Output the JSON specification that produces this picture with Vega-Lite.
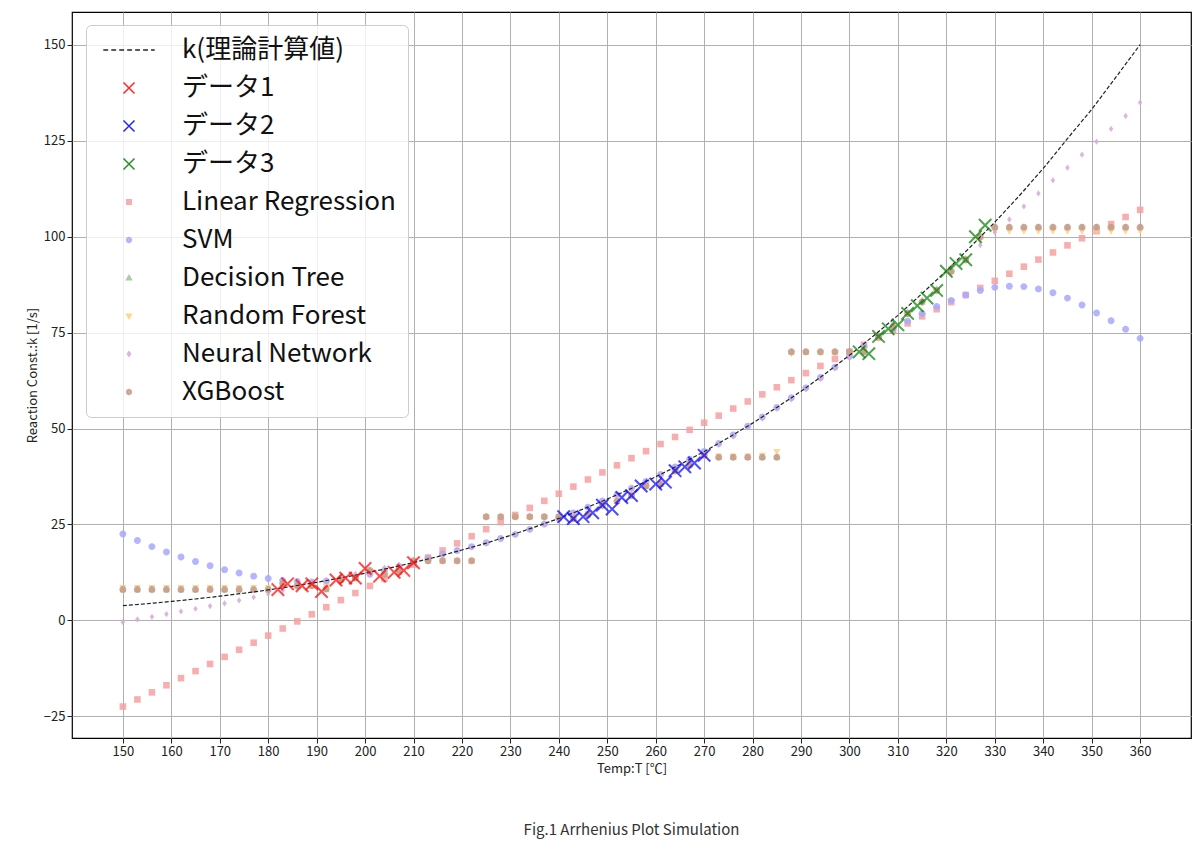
{
"$schema":"https://vega.github.io/schema/vega-lite/v6.json",
"width":1119,"height":726,
"padding":{"left":26,"top":12,"right":8,"bottom":5},
"config":{"font":"Noto Sans CJK JP","view":{"stroke":"black","strokeWidth":1.2},
"axis":{"grid":true,"gridColor":"#b0b0b0","gridWidth":1,"domain":false,"labelFontSize":13,"titleFontSize":13,"titleFontWeight":"normal","labelColor":"#222","titleColor":"#222","tickColor":"#222"}},
"title":{"text":"Fig.1 Arrhenius Plot Simulation","orient":"bottom","fontSize":15,"fontWeight":"normal","color":"#333","offset":48},
"datasets":{
"curve":[{"T":150,"k":3.8},{"T":155,"k":4.3},{"T":160,"k":4.91},{"T":165,"k":5.55},{"T":170,"k":6.27},{"T":175,"k":7.05},{"T":180,"k":7.91},{"T":185,"k":8.85},{"T":190,"k":9.9},{"T":195,"k":11.05},{"T":200,"k":12.26},{"T":205,"k":13.6},{"T":210,"k":15.05},{"T":215,"k":16.6},{"T":220,"k":18.32},{"T":225,"k":20.1},{"T":230,"k":22.13},{"T":235,"k":24.3},{"T":240,"k":26.55},{"T":245,"k":29.0},{"T":250,"k":31.6},{"T":255,"k":34.4},{"T":260,"k":37.4},{"T":265,"k":40.6},{"T":270,"k":44.0},{"T":275,"k":47.6},{"T":280,"k":51.4},{"T":285,"k":55.5},{"T":290,"k":59.7},{"T":295,"k":64.3},{"T":300,"k":69.1},{"T":305,"k":74.2},{"T":310,"k":79.5},{"T":315,"k":85.2},{"T":320,"k":91.1},{"T":325,"k":97.4},{"T":330,"k":103.8},{"T":335,"k":110.6},{"T":340,"k":117.8},{"T":345,"k":125.6},{"T":350,"k":133.2},{"T":355,"k":141.6},{"T":360,"k":150.1}],
"obs":[
{"T":182,"k":8,"series":"データ1"},{"T":184,"k":9.5,"series":"データ1"},{"T":187,"k":9,"series":"データ1"},{"T":189,"k":9.5,"series":"データ1"},{"T":191,"k":7.5,"series":"データ1"},{"T":194,"k":10.5,"series":"データ1"},{"T":196,"k":11,"series":"データ1"},{"T":198,"k":11,"series":"データ1"},{"T":200,"k":13.5,"series":"データ1"},{"T":203,"k":11.5,"series":"データ1"},{"T":206,"k":12.5,"series":"データ1"},{"T":208,"k":13,"series":"データ1"},{"T":210,"k":15,"series":"データ1"},
{"T":241,"k":27,"series":"データ2"},{"T":243,"k":26.5,"series":"データ2"},{"T":245,"k":27,"series":"データ2"},{"T":247,"k":28,"series":"データ2"},{"T":249,"k":30,"series":"データ2"},{"T":251,"k":29,"series":"データ2"},{"T":253,"k":32,"series":"データ2"},{"T":255,"k":32.5,"series":"データ2"},{"T":257,"k":35,"series":"データ2"},{"T":260,"k":35.5,"series":"データ2"},{"T":262,"k":36,"series":"データ2"},{"T":264,"k":39,"series":"データ2"},{"T":266,"k":40,"series":"データ2"},{"T":268,"k":41,"series":"データ2"},{"T":270,"k":43,"series":"データ2"},
{"T":302,"k":70,"series":"データ3"},{"T":304,"k":69.5,"series":"データ3"},{"T":306,"k":74,"series":"データ3"},{"T":308,"k":76,"series":"データ3"},{"T":310,"k":77,"series":"データ3"},{"T":312,"k":80,"series":"データ3"},{"T":314,"k":82,"series":"データ3"},{"T":316,"k":84,"series":"データ3"},{"T":318,"k":86,"series":"データ3"},{"T":320,"k":91,"series":"データ3"},{"T":322,"k":93,"series":"データ3"},{"T":324,"k":94,"series":"データ3"},{"T":326,"k":100,"series":"データ3"},{"T":328,"k":103,"series":"データ3"}],
"ml":[
{"T":150,"Linear Regression":-22.5,"SVM":22.5,"Decision Tree":8,"Random Forest":8.5,"Neural Network":-0.5,"XGBoost":8},
{"T":153,"Linear Regression":-20.65,"SVM":20.8,"Decision Tree":8,"Random Forest":8.5,"Neural Network":0.2,"XGBoost":8},
{"T":156,"Linear Regression":-18.8,"SVM":19.2,"Decision Tree":8,"Random Forest":8.5,"Neural Network":0.9,"XGBoost":8},
{"T":159,"Linear Regression":-16.95,"SVM":17.8,"Decision Tree":8,"Random Forest":8.5,"Neural Network":1.6,"XGBoost":8},
{"T":162,"Linear Regression":-15.1,"SVM":16.5,"Decision Tree":8,"Random Forest":8.5,"Neural Network":2.3,"XGBoost":8},
{"T":165,"Linear Regression":-13.25,"SVM":15.3,"Decision Tree":8,"Random Forest":8.5,"Neural Network":3.0,"XGBoost":8},
{"T":168,"Linear Regression":-11.4,"SVM":14.2,"Decision Tree":8,"Random Forest":8.5,"Neural Network":3.7,"XGBoost":8},
{"T":171,"Linear Regression":-9.55,"SVM":13.2,"Decision Tree":8,"Random Forest":8.5,"Neural Network":4.4,"XGBoost":8},
{"T":174,"Linear Regression":-7.7,"SVM":12.3,"Decision Tree":8,"Random Forest":8.5,"Neural Network":5.2,"XGBoost":8},
{"T":177,"Linear Regression":-5.85,"SVM":11.5,"Decision Tree":8,"Random Forest":8.5,"Neural Network":6.0,"XGBoost":8},
{"T":180,"Linear Regression":-4,"SVM":10.9,"Decision Tree":8,"Random Forest":8.5,"Neural Network":6.9,"XGBoost":8},
{"T":183,"Linear Regression":-2.15,"SVM":10.4,"Decision Tree":9.5,"Random Forest":9.3,"Neural Network":7.8,"XGBoost":9.5},
{"T":186,"Linear Regression":-0.3,"SVM":10.1,"Decision Tree":9,"Random Forest":9.2,"Neural Network":8.7,"XGBoost":9},
{"T":189,"Linear Regression":1.55,"SVM":10.0,"Decision Tree":9,"Random Forest":9,"Neural Network":9.6,"XGBoost":9},
{"T":192,"Linear Regression":3.4,"SVM":10.2,"Decision Tree":8,"Random Forest":8.8,"Neural Network":10.5,"XGBoost":8.2},
{"T":195,"Linear Regression":5.25,"SVM":10.6,"Decision Tree":10.5,"Random Forest":10.3,"Neural Network":11.3,"XGBoost":10.5},
{"T":198,"Linear Regression":7.1,"SVM":11.2,"Decision Tree":11,"Random Forest":11.2,"Neural Network":12.1,"XGBoost":11},
{"T":201,"Linear Regression":8.95,"SVM":12.0,"Decision Tree":13,"Random Forest":12.5,"Neural Network":12.9,"XGBoost":13},
{"T":204,"Linear Regression":10.8,"SVM":12.9,"Decision Tree":12,"Random Forest":12.2,"Neural Network":13.7,"XGBoost":12},
{"T":207,"Linear Regression":12.65,"SVM":14.0,"Decision Tree":13,"Random Forest":13.2,"Neural Network":14.5,"XGBoost":13},
{"T":210,"Linear Regression":14.5,"SVM":15.1,"Decision Tree":15.5,"Random Forest":15.2,"Neural Network":15.3,"XGBoost":15.5},
{"T":213,"Linear Regression":16.35,"SVM":16.2,"Decision Tree":15.5,"Random Forest":15.5,"Neural Network":16.2,"XGBoost":15.5},
{"T":216,"Linear Regression":18.2,"SVM":17.2,"Decision Tree":15.5,"Random Forest":15.5,"Neural Network":17.1,"XGBoost":15.5},
{"T":219,"Linear Regression":20.05,"SVM":18.2,"Decision Tree":15.5,"Random Forest":15.5,"Neural Network":18.0,"XGBoost":15.5},
{"T":222,"Linear Regression":21.9,"SVM":19.2,"Decision Tree":15.5,"Random Forest":15.5,"Neural Network":19.0,"XGBoost":15.5},
{"T":225,"Linear Regression":23.75,"SVM":20.2,"Decision Tree":27,"Random Forest":27,"Neural Network":20.0,"XGBoost":27},
{"T":228,"Linear Regression":25.6,"SVM":21.3,"Decision Tree":27,"Random Forest":27,"Neural Network":21.1,"XGBoost":27},
{"T":231,"Linear Regression":27.45,"SVM":22.4,"Decision Tree":27,"Random Forest":27,"Neural Network":22.3,"XGBoost":27},
{"T":234,"Linear Regression":29.3,"SVM":23.7,"Decision Tree":27,"Random Forest":27,"Neural Network":23.6,"XGBoost":27},
{"T":237,"Linear Regression":31.15,"SVM":25.1,"Decision Tree":27,"Random Forest":27,"Neural Network":25.0,"XGBoost":27},
{"T":240,"Linear Regression":33,"SVM":26.5,"Decision Tree":27,"Random Forest":27,"Neural Network":26.4,"XGBoost":27},
{"T":243,"Linear Regression":34.85,"SVM":28,"Decision Tree":26.5,"Random Forest":26.8,"Neural Network":27.9,"XGBoost":26.5},
{"T":246,"Linear Regression":36.7,"SVM":29.5,"Decision Tree":27.5,"Random Forest":27.8,"Neural Network":29.4,"XGBoost":27.5},
{"T":249,"Linear Regression":38.55,"SVM":31.1,"Decision Tree":30,"Random Forest":29.6,"Neural Network":31,"XGBoost":30},
{"T":252,"Linear Regression":40.4,"SVM":32.7,"Decision Tree":31,"Random Forest":31.2,"Neural Network":32.6,"XGBoost":31},
{"T":255,"Linear Regression":42.25,"SVM":34.4,"Decision Tree":32.5,"Random Forest":32.8,"Neural Network":34.3,"XGBoost":32.5},
{"T":258,"Linear Regression":44.1,"SVM":36.2,"Decision Tree":35,"Random Forest":34.8,"Neural Network":36,"XGBoost":35},
{"T":261,"Linear Regression":45.95,"SVM":38,"Decision Tree":35.5,"Random Forest":35.8,"Neural Network":37.8,"XGBoost":35.5},
{"T":264,"Linear Regression":47.8,"SVM":40,"Decision Tree":39,"Random Forest":38.6,"Neural Network":39.7,"XGBoost":39},
{"T":267,"Linear Regression":49.65,"SVM":42,"Decision Tree":40.5,"Random Forest":40.6,"Neural Network":41.6,"XGBoost":40.5},
{"T":270,"Linear Regression":51.5,"SVM":44,"Decision Tree":43,"Random Forest":42.8,"Neural Network":43.6,"XGBoost":43},
{"T":273,"Linear Regression":53.35,"SVM":46.1,"Decision Tree":42.5,"Random Forest":42.8,"Neural Network":45.7,"XGBoost":42.5},
{"T":276,"Linear Regression":55.2,"SVM":48.3,"Decision Tree":42.5,"Random Forest":42.8,"Neural Network":47.9,"XGBoost":42.5},
{"T":279,"Linear Regression":57.05,"SVM":50.6,"Decision Tree":42.5,"Random Forest":42.8,"Neural Network":50.2,"XGBoost":42.5},
{"T":282,"Linear Regression":58.9,"SVM":53,"Decision Tree":42.5,"Random Forest":43,"Neural Network":52.6,"XGBoost":42.5},
{"T":285,"Linear Regression":60.75,"SVM":55.5,"Decision Tree":42.5,"Random Forest":44,"Neural Network":55.1,"XGBoost":42.5},
{"T":288,"Linear Regression":62.6,"SVM":58,"Decision Tree":70,"Random Forest":69.5,"Neural Network":57.6,"XGBoost":70},
{"T":291,"Linear Regression":64.45,"SVM":60.6,"Decision Tree":70,"Random Forest":69.8,"Neural Network":60.2,"XGBoost":70},
{"T":294,"Linear Regression":66.3,"SVM":63.3,"Decision Tree":70,"Random Forest":69.8,"Neural Network":62.9,"XGBoost":70},
{"T":297,"Linear Regression":68.15,"SVM":66,"Decision Tree":70,"Random Forest":69.8,"Neural Network":65.7,"XGBoost":70},
{"T":300,"Linear Regression":70,"SVM":68.8,"Decision Tree":70,"Random Forest":69.8,"Neural Network":68.6,"XGBoost":70},
{"T":303,"Linear Regression":71.85,"SVM":71.4,"Decision Tree":70,"Random Forest":70.3,"Neural Network":71.5,"XGBoost":70},
{"T":306,"Linear Regression":73.7,"SVM":73.8,"Decision Tree":74,"Random Forest":73.5,"Neural Network":74.5,"XGBoost":74},
{"T":309,"Linear Regression":75.55,"SVM":76,"Decision Tree":76.5,"Random Forest":76.5,"Neural Network":77.5,"XGBoost":76.5},
{"T":312,"Linear Regression":77.4,"SVM":78,"Decision Tree":80,"Random Forest":79.6,"Neural Network":80.5,"XGBoost":80},
{"T":315,"Linear Regression":79.25,"SVM":80,"Decision Tree":83,"Random Forest":82.8,"Neural Network":83.5,"XGBoost":83},
{"T":318,"Linear Regression":81.1,"SVM":81.8,"Decision Tree":86,"Random Forest":86,"Neural Network":86.5,"XGBoost":86},
{"T":321,"Linear Regression":82.95,"SVM":83.4,"Decision Tree":91,"Random Forest":90.5,"Neural Network":91,"XGBoost":91},
{"T":324,"Linear Regression":84.8,"SVM":84.8,"Decision Tree":94,"Random Forest":93.8,"Neural Network":94.4,"XGBoost":94},
{"T":327,"Linear Regression":86.65,"SVM":86,"Decision Tree":100,"Random Forest":99.2,"Neural Network":97.8,"XGBoost":100},
{"T":330,"Linear Regression":88.5,"SVM":86.8,"Decision Tree":102.5,"Random Forest":101.5,"Neural Network":101.2,"XGBoost":102.5},
{"T":333,"Linear Regression":90.35,"SVM":87.1,"Decision Tree":102.5,"Random Forest":101.5,"Neural Network":104.5,"XGBoost":102.5},
{"T":336,"Linear Regression":92.2,"SVM":87,"Decision Tree":102.5,"Random Forest":101.5,"Neural Network":107.9,"XGBoost":102.5},
{"T":339,"Linear Regression":94.05,"SVM":86.4,"Decision Tree":102.5,"Random Forest":101.5,"Neural Network":111.3,"XGBoost":102.5},
{"T":342,"Linear Regression":95.9,"SVM":85.4,"Decision Tree":102.5,"Random Forest":101.5,"Neural Network":114.7,"XGBoost":102.5},
{"T":345,"Linear Regression":97.75,"SVM":84,"Decision Tree":102.5,"Random Forest":101.5,"Neural Network":118,"XGBoost":102.5},
{"T":348,"Linear Regression":99.6,"SVM":82.2,"Decision Tree":102.5,"Random Forest":101.5,"Neural Network":121.4,"XGBoost":102.5},
{"T":351,"Linear Regression":101.45,"SVM":80.1,"Decision Tree":102.5,"Random Forest":101.5,"Neural Network":124.8,"XGBoost":102.5},
{"T":354,"Linear Regression":103.3,"SVM":78.1,"Decision Tree":102.5,"Random Forest":101.5,"Neural Network":128.1,"XGBoost":102.5},
{"T":357,"Linear Regression":105.15,"SVM":75.9,"Decision Tree":102.5,"Random Forest":101.5,"Neural Network":131.5,"XGBoost":102.5},
{"T":360,"Linear Regression":107,"SVM":73.5,"Decision Tree":102.5,"Random Forest":101.5,"Neural Network":135,"XGBoost":102.5}]
},
"encoding":{
"x":{"field":"T","type":"quantitative","scale":{"domain":[139.5,370.5],"nice":false,"zero":false},"axis":{"values":[150,160,170,180,190,200,210,220,230,240,250,260,270,280,290,300,310,320,330,340,350,360],"title":"Temp:T [℃]","labelAngle":0}},
"y":{"field":"k","type":"quantitative","scale":{"domain":[-30.7,158.6],"nice":false,"zero":false},"axis":{"values":[-25,0,25,50,75,100,125,150],"title":"Reaction Const.:k [1/s]"}}
},
"layer":[
{"data":{"name":"ml"},
"transform":[{"fold":["Linear Regression","SVM","Decision Tree","Random Forest","Neural Network","XGBoost"],"as":["series","k"]}],
"mark":{"type":"point","filled":true,"size":300,"strokeWidth":0,"opacity":0.85},
"encoding":{
"color":{"field":"series","type":"nominal","scale":{"domain":["k(理論計算値)","データ1","データ2","データ3","Linear Regression","SVM","Decision Tree","Random Forest","Neural Network","XGBoost"],"range":["black","red","blue","green","#f7a0a0","#a8a8ff","#9cc49c","#ffcf80","#d4aad6","#c79a88"]},
"legend":{"orient":"none","legendX":14,"legendY":13,"title":null,"labelFontSize":26,"labelColor":"#111","labelLimit":400,"symbolSize":150,"rowPadding":12,"padding":12,"fillColor":"rgba(255,255,255,0.8)","strokeColor":"#cccccc","cornerRadius":5,"symbolOffset":18,"labelOffset":40,
"encode":{"symbols":{"update":{"fill":{"scale":"color","field":"value"},"stroke":{"scale":"color","field":"value"},"strokeWidth":{"value":2}}}}}},
"shape":{"field":"series","type":"nominal","scale":{"domain":["k(理論計算値)","データ1","データ2","データ3","Linear Regression","SVM","Decision Tree","Random Forest","Neural Network","XGBoost"],"range":["M-4.2,0H-3.4M-2.9,0H-2.1M-1.6,0H-0.8M-0.3,0H0.5M1,0H1.8M2.3,0H3.1M3.6,0H4.2","M-0.9,-0.9L0.9,0.9M-0.9,0.9L0.9,-0.9","M-0.9,-0.9L0.9,0.9M-0.9,0.9L0.9,-0.9","M-0.9,-0.9L0.9,0.9M-0.9,0.9L0.9,-0.9","M-0.38,-0.38H0.38V0.38H-0.38Z","M0.4,0A0.4,0.4,0,1,1,-0.4,0A0.4,0.4,0,1,1,0.4,0","M0,-0.42L0.4,0.3H-0.4Z","M0,0.42L0.4,-0.3H-0.4Z","M0,-0.36L0.26,0L0,0.36L-0.26,0Z","M0.4,0A0.4,0.4,0,1,1,-0.4,0A0.4,0.4,0,1,1,0.4,0"]}}
}},
{"data":{"name":"curve"},"mark":{"type":"line","color":"#222","strokeWidth":1.2,"strokeDash":[4,2]},"encoding":{}},
{"data":{"name":"obs"},
"mark":{"type":"point","filled":false,"size":190,"strokeWidth":2},
"encoding":{
"color":{"field":"series","type":"nominal"},
"shape":{"field":"series","type":"nominal"}
}}
]
}
